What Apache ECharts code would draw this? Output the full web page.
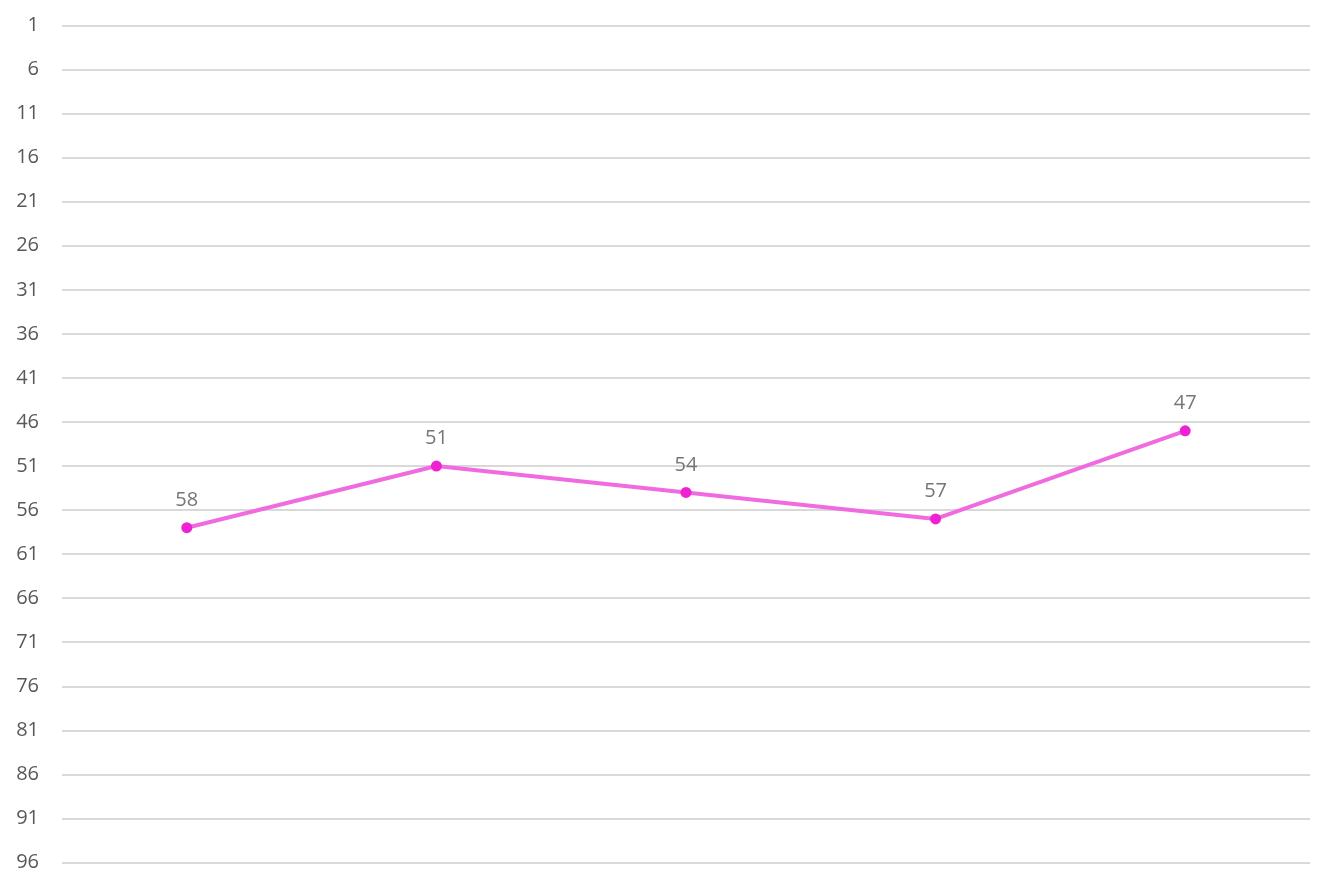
<!DOCTYPE html>
<html>
<head>
<meta charset="utf-8">
<script src="https://cdn.jsdelivr.net/npm/echarts@6/dist/echarts.min.js"></script>
<style>html,body{margin:0;padding:0;background:#fff}#c{width:1334px;height:889px}</style>
</head>
<body>
<div id="c"></div>
<script>
const categories = ['1', '2', '3', '4', '5'];
const values = [58, 51, 54, 57, 47];
const yMin = 1, yMax = 96, yStep = 5;

const chart = echarts.init(document.getElementById('c'), null, {renderer: 'canvas'});
chart.setOption({
  animation: false,
  grid: {left: 62, right: 24, top: 25.5, bottom: 26.5, containLabel: false},
  xAxis: {
    type: 'category', data: categories, boundaryGap: true,
    axisLine: {show: false}, axisTick: {show: false}, axisLabel: {show: false}, splitLine: {show: false}
  },
  yAxis: {
    type: 'value', inverse: true, min: yMin, max: yMax, interval: yStep,
    axisLine: {show: false}, axisTick: {show: false},
    axisLabel: {color: '#595959', fontSize: 20, fontFamily: 'Open Sans, Noto Sans, sans-serif', margin: 23, padding: [2, 0, 0, 0]},
    splitLine: {lineStyle: {color: '#d9d9d9', width: 2}}
  },
  series: [{
    type: 'line', data: values,
    lineStyle: {color: '#f06be0', width: 4},
    itemStyle: {color: '#ee22d0'},
    symbol: 'circle', symbolSize: 11, showSymbol: true,
    label: {show: true, position: 'top', distance: 12, color: '#767676', fontSize: 20, fontFamily: 'Open Sans, Noto Sans, sans-serif'}
  }]
});
</script>
</body>
</html>
